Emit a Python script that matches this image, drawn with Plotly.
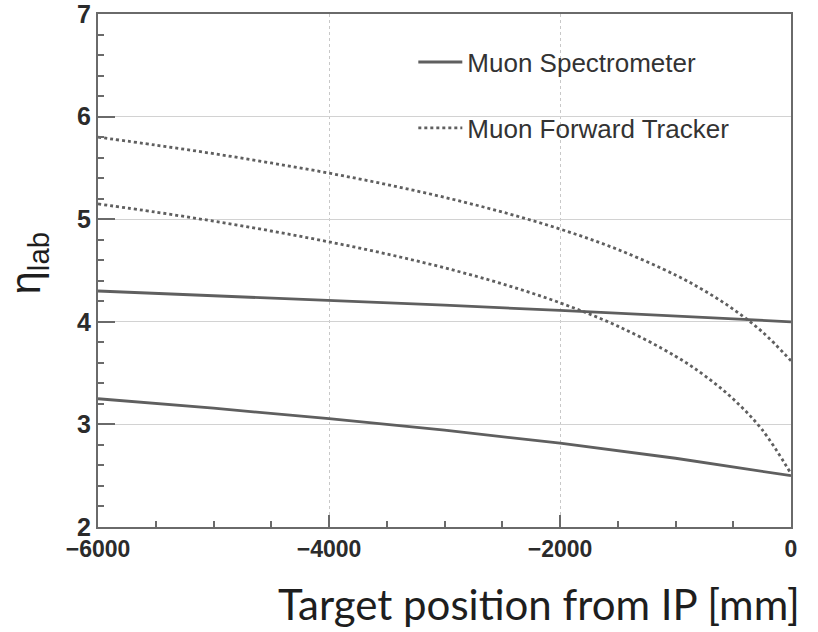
import plotly.graph_objects as go

# Target position from the interaction point [mm]
z_solid = [-6000, -5000, -4000, -3000, -2000, -1000, 0]
z_dotted = [-6000, -5500, -5000, -4500, -4000, -3500, -3000, -2500,
            -2000, -1500, -1000, -750, -500, -250, 0]

# Muon Spectrometer acceptance edges (eta_lab)
ms_upper = [4.30, 4.256, 4.21, 4.162, 4.111, 4.057, 4.00]
ms_lower = [3.25, 3.158, 3.056, 2.944, 2.817, 2.670, 2.50]

# Muon Forward Tracker acceptance edges (eta_lab)
mft_upper = [5.80, 5.722, 5.639, 5.548, 5.449, 5.338, 5.213, 5.070,
             4.904, 4.705, 4.456, 4.303, 4.123, 3.903, 3.62]
mft_lower = [5.149, 5.069, 4.981, 4.885, 4.779, 4.661, 4.526, 4.370,
             4.185, 3.958, 3.665, 3.477, 3.247, 2.948, 2.52]

legend_names = ["Muon Spectrometer", "Muon Forward Tracker"]
x_ticks = [-6000, -4000, -2000, 0]
y_ticks = [2, 3, 4, 5, 6, 7]

LINE = "#5f5f5f"
AXIS = "#6a6a6a"
TXT = "#2b2b2b"

fig = go.Figure()

fig.add_trace(go.Scatter(x=z_solid, y=ms_upper, mode="lines", name=legend_names[0],
                         legendgroup="ms", line=dict(color=LINE, width=2.8)))
fig.add_trace(go.Scatter(x=z_solid, y=ms_lower, mode="lines", showlegend=False,
                         legendgroup="ms", line=dict(color=LINE, width=2.8)))
fig.add_trace(go.Scatter(x=z_dotted, y=mft_upper, mode="lines", name=legend_names[1],
                         legendgroup="mft", line=dict(color=LINE, width=2.8, dash="dot",
                                                      shape="spline")))
fig.add_trace(go.Scatter(x=z_dotted, y=mft_lower, mode="lines", showlegend=False,
                         legendgroup="mft", line=dict(color=LINE, width=2.8, dash="dot",
                                                      shape="spline")))

fig.update_layout(
    width=818, height=632,
    margin=dict(l=98, r=27, t=14, b=105, autoexpand=False),
    plot_bgcolor="white", paper_bgcolor="white",
    font=dict(family="Liberation Sans, Arial, sans-serif", color=TXT),
    legend=dict(x=0.455, y=0.952, xanchor="left", yanchor="top",
                bgcolor="rgba(0,0,0,0)", tracegroupgap=29, itemwidth=44,
                font=dict(size=26, color="#333333")),
)

fig.update_xaxes(
    range=[-6000, 0], tickvals=x_ticks,
    ticktext=["\u22126000", "\u22124000", "\u22122000", "0"],
    showline=True, linecolor=AXIS, linewidth=2, mirror=True,
    ticks="inside", ticklen=12, tickwidth=1.5, tickcolor=AXIS,
    minor=dict(dtick=500, ticks="inside", ticklen=6, tickcolor=AXIS, showgrid=False),
    showgrid=True, gridcolor="#c8c8c8", gridwidth=1, griddash="dot",
    zeroline=False, ticklabeloverflow="allow", automargin=False,
    tickfont=dict(size=23, family="Liberation Sans, Arial", weight="bold", color=TXT),
)
fig.update_yaxes(
    range=[2, 7], tickvals=y_ticks,
    showline=True, linecolor=AXIS, linewidth=2, mirror=True,
    ticks="inside", ticklen=17, tickwidth=1.5, tickcolor=AXIS,
    minor=dict(dtick=0.2, ticks="inside", ticklen=6, tickcolor=AXIS, showgrid=False),
    showgrid=True, gridcolor="#d2d2d2", gridwidth=1.2,
    zeroline=False, ticklabeloverflow="allow", automargin=False,
    tickfont=dict(size=25, family="Liberation Sans, Arial", weight="bold", color=TXT),
)

# Axis titles
fig.add_annotation(text="Target position from IP [mm]", xref="paper", yref="paper",
                   x=1.016, y=-0.098, xanchor="right", yanchor="top", showarrow=False,
                   font=dict(size=42, family="Lato, Open Sans, sans-serif", color="#1e1e1e"))
fig.add_annotation(text="\u03b7<sub>lab</sub>", xref="paper", yref="paper",
                   x=-0.1, y=0.515, xanchor="center", yanchor="middle",
                   textangle=-90, showarrow=False,
                   font=dict(size=42, family="Liberation Sans, Arial", color="#1e1e1e"))

fig.write_html("out.html")
